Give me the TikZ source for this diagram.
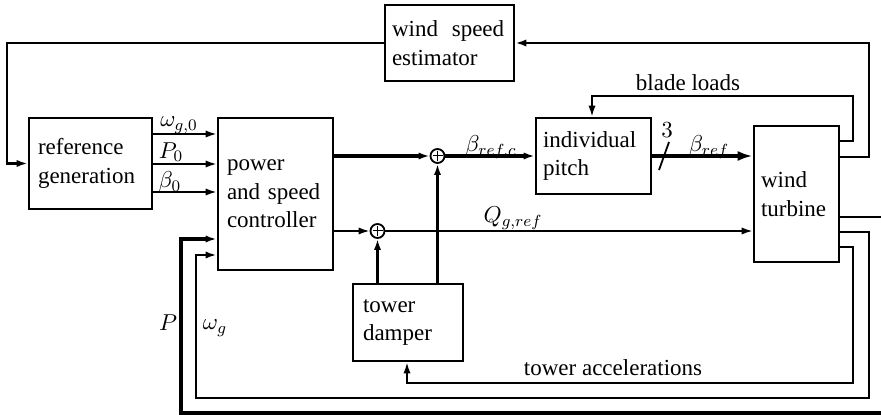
\RequirePackage{fix-cm}
\documentclass[tikz,border=0pt]{standalone}
\usepackage{fontspec}
\setmainfont{Liberation Serif}
\usetikzlibrary{arrows.meta,calc}
\newcommand\dgfont{\fontsize{11.5}{14.2}\selectfont}
\begin{document}
\begin{tikzpicture}[x=0.5pt,y=-0.5pt,
  box/.style={draw, line width=1.3pt, align=left, inner xsep=4.5pt, inner ysep=0pt, font=\dgfont},
  lbl/.style={font=\dgfont, inner sep=0pt},
  sumnode/.style={draw, circle, line width=0.9pt, minimum size=7pt, inner sep=0pt,
    path picture={\draw[line width=0.5pt] ($(path picture bounding box.center)+(0,-5)$) -- ($(path picture bounding box.center)+(0,5)$)
      ($(path picture bounding box.center)+(-5,0)$) -- ($(path picture bounding box.center)+(5,0)$);}},
  thinline/.style={line width=0.9pt},
  medline/.style={line width=1.3pt},
  thickline/.style={line width=1.8pt},
  tipa/.style={-{Latex[length=5.5pt,width=3.6pt]}},
  tipb/.style={-{Latex[length=7.5pt,width=5pt]}},
]
\useasboundingbox (0,0) rectangle (881,415);
\fill[white] (0,0) rectangle (881,415);
\clip (0,0) rectangle (881,415);

% blocks
\node[box, inner xsep=3.5pt, text width=57.5pt, minimum height=38pt] (est) at (449.5,43) {\mbox{wind\hspace{0.6em}speed}\\estimator};
\node[box, text width=52.5pt, minimum height=45.5pt] (ref) at (90.5,163.5) {reference\\generation};
\node[box, text width=48.5pt, minimum height=76pt] (ctrl) at (275.5,194) {power\\and speed\\controller};
\node[box, inner xsep=3.5pt, text width=50.5pt, minimum height=38pt] (pitch) at (593.5,156) {individual\\pitch};
\node[box, inner xsep=3.5pt, text width=35.5pt, minimum height=68pt] (turb) at (796.5,194) {wind\\turbine};
\node[box, inner xsep=5pt, text width=45pt, minimum height=38.5pt] (damper) at (408,322.5) {tower\\damper};

% summing junctions
\node[sumnode] (s1) at (437.5,156) {};
\node[sumnode] (s2) at (377.5,231) {};

% helper coordinates
\coordinate (eL) at (7,43);
\coordinate (eB) at (7,163.5);
\coordinate (tE1) at (869,157);
\coordinate (tE2) at (869,43);
\coordinate (bl1) at (853,141);
\coordinate (bl2) at (853,96);
\coordinate (bl3) at (592,96);
\coordinate (r1) at (0,134);
\coordinate (r2) at (0,164);
\coordinate (r3) at (0,192);
\coordinate (q1) at (0,231);
\coordinate (ta1) at (853,247);
\coordinate (ta2) at (853,383);
\coordinate (ta3) at (407,383);
\coordinate (w1) at (869,232);
\coordinate (w2) at (869,398);
\coordinate (w3) at (196,398);
\coordinate (w4) at (196,255);
\coordinate (p1) at (900,217);
\coordinate (p2) at (900,413);
\coordinate (p3) at (181,413);
\coordinate (p4) at (181,239);

% connectors
\draw[medline,tipa] (est.west) -- (eL) -- (eB) -- (ref.west);
\draw[medline,tipa] (turb.east |- tE1) -- (tE1) -- (tE2) -- (est.east);
\draw[thinline,tipa] (turb.east |- bl1) -- (bl1) -- (bl2) -- (bl3) -- (pitch.north -| bl3);

\draw[thinline,tipa] (ref.east |- r1) -- (ctrl.west |- r1);
\draw[thinline,tipa] (ref.east |- r2) -- (ctrl.west |- r2);
\draw[thinline,tipa] (ref.east |- r3) -- (ctrl.west |- r3);

\draw[thickline,tipa] (ctrl.east |- s1) -- (s1.west);
\draw[thickline,tipa] (s1.east) -- (pitch.west |- s1);
\draw[thickline,tipb] (pitch.east |- s1) -- (turb.west |- s1);

\draw[thinline,tipa] (ctrl.east |- q1) -- (s2.west);
\draw[thinline,tipa] (s2.east) -- (turb.west |- q1);

\draw[medline,tipa] (damper.north -| s2) -- (s2.south);
\draw[thickline,tipa] (damper.north -| s1) -- (s1.south);

\draw[thinline,tipa] (turb.east |- ta1) -- (ta1) -- (ta2) -- (ta3) -- (damper.south -| ta3);
\draw[medline,tipa] (turb.east |- w1) -- (w1) -- (w2) -- (w3) -- (w4) -- (ctrl.west |- w4);
\draw[medline] (turb.east |- p1) -- (p1);
\draw[thickline,tipa] (p1) -- (p2) -- (p3) -- (p4) -- (ctrl.west |- p4);

% bus width mark
\draw[thinline] (659,170) -- (669,142);

% labels
\node[lbl] at (179,125) {$\omega_{g,0}$};
\node[lbl] at (171,152) {$P_0$};
\node[lbl] at (170,182) {$\beta_0$};
\node[lbl] at (491,147) {$\beta_{ref,c}$};
\node[lbl] at (667,130) {$3$};
\node[lbl] at (709,147) {$\beta_{ref}$};
\node[lbl] at (513,218) {$Q_{g,ref}$};
\node[lbl] at (688,83) {blade loads};
\node[lbl] at (613,368) {tower accelerations};
\node[lbl] at (168,323) {$P$};
\node[lbl] at (215,328) {$\omega_g$};
\end{tikzpicture}
\end{document}
